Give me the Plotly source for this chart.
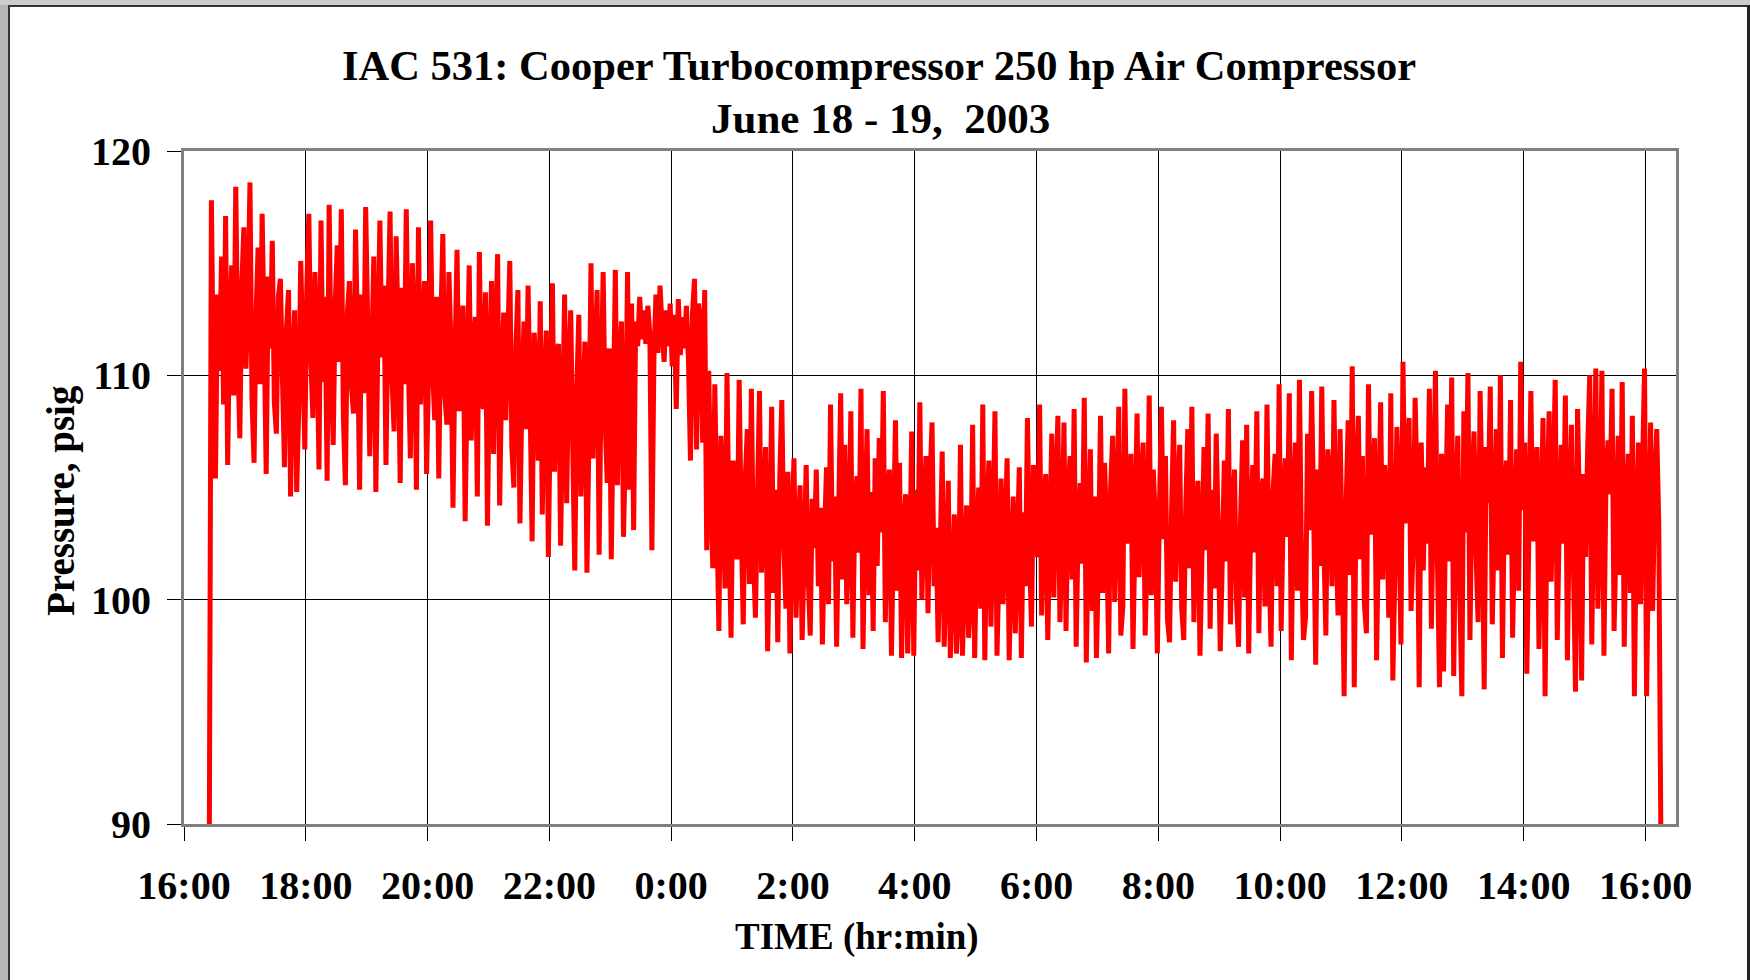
import pandas as pd
import plotly.graph_objects as go

# ---------------- data ----------------
START = "2003-06-18 16:25"      # first logged sample
SAMPLE_MINUTES = 2              # logging interval

# pressure, psig  -- one row per hour (30 samples of 2 min)
pressure_1625_2023 = [
    90.0, 117.8, 109.4, 105.4, 113.6, 110.2, 115.3, 108.7, 117.1, 106.0, 112.4, 114.9, 109.1, 118.4, 111.0, 107.2, 114.1, 116.6, 110.3, 113.2, 118.6, 108.9, 106.1, 112.7, 115.7, 109.6, 117.2, 111.8, 105.6, 114.4,
    111.2, 116.0, 108.8, 107.4, 113.5, 114.3, 109.9, 105.9, 112.1, 113.8, 104.6, 110.5, 112.9, 104.8, 108.4, 115.1, 111.3, 106.7, 113.9, 117.2, 110.6, 108.1, 114.6, 112.0, 105.8, 116.9, 109.7, 113.5, 105.3, 117.6,
    110.4, 106.9, 113.2, 115.8, 110.6, 117.4, 108.2, 105.1, 112.8, 114.2, 109.5, 108.3, 116.5, 111.7, 104.9, 113.6, 109.2, 117.5, 112.3, 106.4, 110.9, 115.3, 104.8, 111.4, 116.9, 110.8, 114.0, 106.0, 112.6, 117.3,
    109.8, 107.5, 116.2, 111.9, 105.2, 113.9, 109.6, 117.4, 110.7, 106.3, 115.0, 112.1, 104.9, 116.6, 108.7, 111.5, 114.2, 105.6, 110.3, 116.9, 110.2, 108.0, 113.5, 105.4, 112.2, 116.3, 109.1, 107.8, 114.6, 111.4,
]
pressure_2025_0023 = [
    104.1, 110.8, 115.6, 108.4, 112.3, 113.1, 103.5, 109.7, 114.9, 107.1, 111.2, 112.6, 104.6, 115.5, 109.3, 108.5, 113.7, 103.3, 110.6, 114.2, 106.5, 112.0, 115.4, 104.2, 109.9, 112.8, 108.0, 111.6, 115.1, 106.8,
    105.0, 111.3, 113.8, 103.4, 109.2, 112.4, 107.6, 114.0, 108.8, 102.6, 111.9, 110.1, 106.2, 113.3, 103.8, 109.5, 112.0, 101.9, 108.7, 114.1, 105.7, 110.9, 111.4, 102.4, 107.8, 113.6, 104.3, 110.2, 112.9, 106.9,
    101.3, 109.4, 112.7, 104.6, 108.1, 111.5, 101.2, 107.3, 115.0, 106.3, 110.8, 113.8, 102.0, 109.7, 114.6, 107.9, 105.2, 111.2, 101.8, 108.4, 114.7, 105.1, 110.6, 112.4, 102.8, 106.9, 114.6, 104.9, 113.2, 103.1,
    112.4, 111.3, 113.5, 111.6, 112.9, 111.4, 113.1, 111.8, 102.2, 110.8, 113.6, 111.0, 114.0, 112.2, 110.6, 112.9, 111.3, 113.2, 110.4, 112.7, 108.5, 113.4, 110.9, 112.6, 111.2, 113.1, 110.7, 106.2, 112.8, 114.3,
]
pressure_0025_0423 = [
    106.7, 113.2, 112.4, 107.0, 113.8, 102.2, 110.2, 104.5, 101.4, 109.6, 103.7, 98.6, 107.3, 105.1, 100.5, 110.1, 102.9, 98.3, 106.2, 104.0, 101.8, 109.8, 103.3, 98.9, 105.4, 107.6, 100.7, 109.4, 102.1, 99.2,
    104.6, 109.3, 101.2, 103.9, 106.8, 97.7, 102.8, 108.6, 100.3, 104.9, 98.1, 105.5, 108.9, 102.4, 99.6, 105.7, 97.6, 103.5, 106.3, 99.2, 102.7, 105.1, 98.2, 101.9, 106.0, 101.0, 98.4, 104.5, 102.3, 105.8,
    100.6, 104.1, 98.0, 102.6, 105.9, 99.8, 108.7, 101.7, 104.6, 97.9, 103.8, 109.2, 100.9, 106.9, 99.8, 102.5, 108.4, 98.3, 104.2, 105.5, 102.1, 109.4, 97.8, 103.6, 107.6, 100.2, 104.8, 98.6, 106.3, 101.5,
    107.2, 103.0, 109.3, 99.0, 104.4, 105.8, 97.5, 102.9, 108.0, 100.4, 106.1, 97.4, 103.1, 104.7, 97.6, 101.6, 107.5, 97.5, 104.9, 101.3, 108.8, 100.0, 103.7, 106.4, 99.4, 105.2, 107.9, 100.6, 103.2, 98.1,
]
pressure_0425_0823 = [
    102.0, 106.6, 97.9, 101.4, 105.3, 97.4, 100.8, 103.8, 97.6, 99.5, 106.9, 97.5, 101.2, 104.2, 98.3, 100.1, 107.8, 97.4, 102.6, 105.0, 99.6, 108.7, 97.3, 103.4, 106.2, 98.8, 102.9, 108.4, 97.5, 101.7,
    105.4, 99.8, 103.1, 106.3, 97.3, 101.5, 104.6, 98.5, 102.4, 105.9, 97.4, 103.9, 100.6, 108.1, 102.2, 98.8, 106.0, 104.1, 101.9, 108.7, 99.3, 103.6, 105.6, 98.2, 102.8, 107.4, 100.1, 104.7, 108.2, 99.0,
    102.3, 107.9, 98.6, 104.5, 106.4, 100.9, 108.5, 97.9, 103.3, 105.2, 101.6, 109.0, 97.2, 102.8, 106.7, 99.5, 104.6, 97.4, 101.7, 108.2, 100.3, 106.1, 103.2, 97.6, 105.0, 107.3, 99.9, 103.8, 108.6, 98.4,
    99.7, 109.4, 102.5, 104.3, 106.5, 97.8, 103.0, 108.3, 101.0, 105.1, 107.0, 98.4, 102.3, 109.1, 100.2, 105.8, 103.6, 97.6, 104.0, 108.6, 102.7, 106.4, 99.1, 98.1, 103.9, 108.0, 100.8, 104.7, 106.9, 99.6,
]
pressure_0825_1223 = [
    98.2, 104.2, 107.6, 101.4, 108.6, 99.0, 103.5, 105.3, 97.5, 102.1, 106.8, 102.2, 108.3, 98.7, 104.9, 100.5, 107.4, 103.0, 97.7, 101.8, 106.2, 101.7, 108.5, 98.9, 104.1, 105.8, 100.0, 97.9, 103.6, 107.1,
    100.1, 107.8, 97.6, 103.4, 106.0, 102.1, 108.4, 98.5, 104.3, 105.4, 99.7, 108.7, 101.6, 97.9, 104.8, 106.5, 100.6, 109.6, 98.6, 103.9, 106.3, 102.8, 109.2, 97.3, 104.4, 107.0, 100.4, 109.8, 101.9, 98.2,
    99.2, 107.4, 103.1, 109.3, 104.0, 97.1, 105.8, 101.5, 109.5, 102.6, 98.4, 106.7, 104.9, 100.6, 108.9, 103.0, 99.3, 107.6, 102.6, 95.7, 104.2, 108.0, 101.1, 110.4, 96.1, 105.3, 108.2, 101.8, 106.4, 99.8,
    98.5, 109.6, 102.9, 104.7, 107.2, 97.3, 103.5, 108.8, 100.9, 106.0, 104.1, 99.2, 109.2, 96.4, 101.2, 107.7, 103.8, 98.0, 110.6, 103.4, 105.6, 108.1, 99.5, 102.4, 109.0, 104.6, 96.1, 107.0, 101.3, 105.9,
]
pressure_1225_1615 = [
    102.5, 109.4, 98.7, 104.8, 110.2, 101.6, 96.1, 106.5, 96.8, 103.9, 108.7, 101.7, 109.9, 96.6, 104.3, 107.3, 100.2, 95.7, 108.4, 103.0, 110.1, 98.2, 105.2, 107.5, 102.1, 99.0, 109.3, 104.4, 96.0, 106.8,
    104.3, 109.5, 98.9, 103.6, 107.6, 101.3, 110.0, 97.4, 104.9, 106.2, 102.0, 108.9, 98.3, 103.1, 106.7, 100.4, 110.6, 104.0, 107.0, 96.7, 102.8, 109.3, 102.6, 105.4, 106.8, 97.8, 103.7, 108.1, 95.7, 104.5,
    108.4, 100.8, 105.0, 109.8, 98.2, 103.4, 106.9, 102.5, 109.1, 97.3, 104.2, 107.8, 101.4, 95.9, 108.5, 103.6, 96.4, 105.6, 101.9, 106.8, 110.0, 98.0, 104.7, 110.3, 99.6, 103.2, 110.2, 97.5, 105.3, 107.1,
    104.7, 109.4, 98.6, 102.8, 107.3, 101.1, 109.7, 97.9, 104.0, 106.5, 100.3, 108.2, 95.7, 103.5, 107.0, 99.8, 105.9, 110.3, 95.7, 102.4, 107.9, 99.5, 104.8, 107.6, 103.4, 90.0,
]

tick_times = [
    "2003-06-18 16:00", "2003-06-18 18:00", "2003-06-18 20:00", "2003-06-18 22:00",
    "2003-06-19 00:00", "2003-06-19 02:00", "2003-06-19 04:00", "2003-06-19 06:00",
    "2003-06-19 08:00", "2003-06-19 10:00", "2003-06-19 12:00", "2003-06-19 14:00",
    "2003-06-19 16:00",
]
tick_labels = ["16:00", "18:00", "20:00", "22:00", "0:00", "2:00", "4:00",
               "6:00", "8:00", "10:00", "12:00", "14:00", "16:00"]
y_ticks = [90, 100, 110, 120]

pressure = (pressure_1625_2023 + pressure_2025_0023 + pressure_0025_0423 +
            pressure_0425_0823 + pressure_0825_1223 + pressure_1225_1615)
times = pd.date_range(START, periods=len(pressure), freq=f"{SAMPLE_MINUTES}min")

# ---------------- layout geometry ----------------
W, H = 1750, 980
L, R, T, B = 184, 1676, 151, 824


def px(x):
    return (x - L) / (R - L)


def py(y):
    return (B - y) / (B - T)


FONT = "Liberation Serif, Times New Roman, serif"

fig = go.Figure()
fig.add_trace(go.Scatter(
    x=times, y=pressure, mode="lines",
    line=dict(color="#ff0000", width=5, simplify=False),
    showlegend=False, hoverinfo="skip",
))

axis_common = dict(
    showline=True, linecolor="#808080", linewidth=3, mirror=True,
    ticks="outside", ticklen=14, tickwidth=1, tickcolor="#000000",
    showgrid=True, gridcolor="#000000", gridwidth=1, zeroline=False,
    tickfont=dict(family=FONT, size=40, color="#000000", weight="bold"),
)

fig.update_xaxes(
    type="date", range=["2003-06-18 16:00", "2003-06-19 16:30"],
    tickmode="array", tickvals=tick_times, ticktext=tick_labels,
    ticklabelstandoff=10, **axis_common,
)
fig.update_yaxes(
    range=[90, 120], tickmode="array", tickvals=y_ticks,
    ticktext=[str(v) for v in y_ticks], ticklabelstandoff=8, **axis_common,
)

annotations = [
    dict(text="IAC 531: Cooper Turbocompressor 250 hp Air Compressor",
         x=px(879), y=py(65), font=dict(size=42.5)),
    dict(text="June 18 - 19,  2003", x=px(880), y=py(119), font=dict(size=43)),
    dict(text="TIME (hr:min)", x=px(857), y=py(937), font=dict(size=37)),
    dict(text="Pressure, psig", x=px(61), y=py(501), font=dict(size=39), textangle=-90),
]
for a in annotations:
    a["font"].update(family=FONT, color="#000000", weight="bold")
    a.update(xref="paper", yref="paper", xanchor="center", yanchor="middle", showarrow=False)

shapes = [
    # slide background strips around the pasted chart
    dict(type="rect", x0=px(0), x1=px(8), y0=py(H), y1=py(0), fillcolor="#b5b5b9", line_width=0),
    dict(type="rect", x0=px(0), x1=px(W), y0=py(5), y1=py(0), fillcolor="#c9cdce", line_width=0),
    dict(type="rect", x0=px(8), x1=px(10), y0=py(H), y1=py(5), fillcolor="#333333", line_width=0),
    dict(type="rect", x0=px(8), x1=px(W), y0=py(7), y1=py(5), fillcolor="#333333", line_width=0),
    dict(type="rect", x0=px(1747), x1=px(W), y0=py(H), y1=py(5), fillcolor="#222222", line_width=0),
]
for s in shapes:
    s.update(xref="paper", yref="paper", layer="above")

fig.update_layout(
    width=W, height=H,
    margin=dict(l=L, r=W - R, t=T, b=H - B, pad=0),
    paper_bgcolor="#ffffff", plot_bgcolor="#ffffff",
    annotations=annotations, shapes=shapes,
    font=dict(family=FONT, color="#000000"),
)

fig.write_html("out.html", config={"displayModeBar": False},
               post_script="document.body.style.margin='0';")
